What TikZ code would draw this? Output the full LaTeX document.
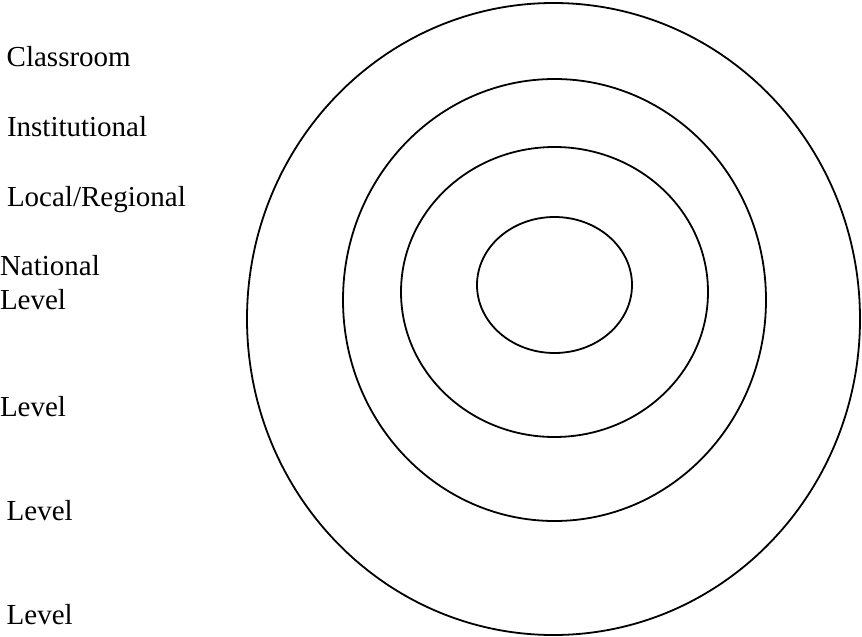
\documentclass[tikz,border=0pt]{standalone}
\usepackage{fontspec}
\setmainfont{Liberation Serif}
\begin{document}
\begin{tikzpicture}[x=1pt,y=-1pt,
  ring/.style={draw=black,line width=1.8pt},
  lbl/.style={anchor=base west,inner sep=0pt,outer sep=0pt,font=\fontsize{29}{34}\selectfont}]
\useasboundingbox (0,0) rectangle (862,637);
\draw[ring] (553.5,319) ellipse [x radius=306.5pt, y radius=316pt];
\draw[ring] (554.5,300) ellipse [x radius=211.5pt, y radius=221pt];
\draw[ring] (554.5,292) ellipse [x radius=153.5pt, y radius=145pt];
\draw[ring] (554.5,285) ellipse [x radius=77.5pt, y radius=68pt];
\node[lbl] (classroom) at (6.7,66) {Classroom};
\node[lbl] (institutional) at (7,136) {Institutional};
\node[lbl] (local) at (7,206) {Local/Regional};
\node[lbl] (national) at (0,275) {National};
\node[lbl] (level1) at (0,309) {Level};
\node[lbl] (level2) at (0,416) {Level};
\node[lbl] (level3) at (6.7,520) {Level};
\node[lbl] (level4) at (6.7,624) {Level};
\end{tikzpicture}
\end{document}
